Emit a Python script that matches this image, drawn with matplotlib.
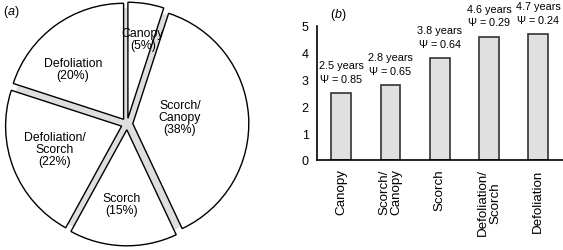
import matplotlib
matplotlib.use("Agg")
from matplotlib import pyplot as plt
from matplotlib.patches import Circle

plt.rcParams['font.family'] = ['Liberation Sans', 'DejaVu Sans']
plt.rcParams['mathtext.fontset'] = 'custom'
plt.rcParams['mathtext.rm'] = 'Liberation Sans'
plt.rcParams['mathtext.it'] = 'Liberation Sans:italic'

# pie data (a)
pie_labels = ['Canopy\n(5%)', 'Scorch/\nCanopy\n(38%)', 'Scorch\n(15%)',
              'Defoliation/\nScorch\n(22%)', 'Defoliation\n(20%)']
pie_shares = [5, 38, 15, 22, 20]

# bar data (b)
bar_names = ['Canopy', 'Scorch/\nCanopy', 'Scorch', 'Defoliation/\nScorch', 'Defoliation']
bar_years = [2.5, 2.8, 3.8, 4.6, 4.7]
bar_psi = [0.85, 0.65, 0.64, 0.29, 0.24]

fig = plt.figure(figsize=(5.63, 2.51), dpi=100)

# ---- (a) pie ----
W, H = 563, 251
cx, cy, r = 127, 126, 116
ax1 = fig.add_axes([(cx - 122) / W, (cy - 122) / H, 244 / W, 244 / H])
ax1.add_patch(Circle((0, 0), 1.0, facecolor='#dedede', edgecolor='none', zorder=0))
wedges, _ = ax1.pie(pie_shares, startangle=90, counterclock=False,
                    explode=[0.05] * 5, radius=1.0,
                    wedgeprops=dict(facecolor='white', edgecolor='black', linewidth=1.0))
for w in wedges:
    w.set_zorder(1)
ax1.set_xlim(-122 / r, 122 / r)
ax1.set_ylim(-122 / r, 122 / r)
ax1.set_aspect('equal')
ax1.axis('off')

# label positions (pixels in the picture, top-left origin)
label_px = [(143, 40), (180, 118), (122, 205), (55, 150), (73, 70)]
for lab, (px, py) in zip(pie_labels, label_px):
    ax1.text((px - cx) / r, ((H - py) - cy) / r, lab, ha='center', va='center',
             fontsize=8.8, linespacing=1.05, zorder=3)
fig.text(3 / W, 1 - 12 / H, r'($\mathit{a}$)', fontsize=9, va='center', ha='left')

# ---- (b) bars ----
ax2 = fig.add_axes([317 / W, (H - 161) / H, (W - 317) / W, (161 - 27) / H])
x = range(len(bar_years))
ax2.bar(x, bar_years, width=0.4, color='#e0e0e0', edgecolor='#333333', linewidth=1.2)
for i, (v, p) in enumerate(zip(bar_years, bar_psi)):
    ax2.text(i, v + 0.35, f'{v} years\n' + r'$\mathit{\Psi}$' + f' = {p:.2f}',
             ha='center', va='bottom', fontsize=7.8, linespacing=1.15, clip_on=False)
ax2.set_xlim(-0.49, 4.5)
ax2.set_ylim(0, 5)
ax2.set_yticks(range(6))
ax2.set_xticks(list(x))
ax2.set_xticklabels(bar_names, rotation=90, fontsize=9.6, linespacing=1.0, va='top')
ax2.tick_params(axis='both', length=0, pad=6)
ax2.tick_params(axis='y', labelsize=9)
ax2.spines['top'].set_visible(False)
ax2.spines['right'].set_visible(False)
ax2.spines['left'].set_linewidth(1.2)
ax2.spines['bottom'].set_linewidth(1.2)
fig.text(330 / W, 1 - 15 / H, r'($\mathit{b}$)', fontsize=9, va='center', ha='left')

fig.savefig('out.png', dpi=100)
